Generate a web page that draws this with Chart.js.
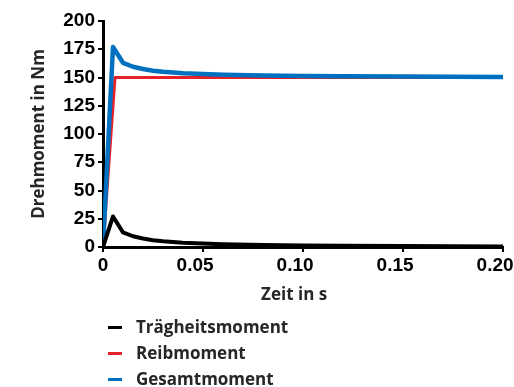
<!DOCTYPE html>
<html>
<head>
<meta charset="utf-8">
<script src="https://cdn.jsdelivr.net/npm/chart.js@4/dist/chart.umd.min.js"></script>
<style>
  html, body { margin: 0; padding: 0; background: #fff; }
  #wrap { position: relative; width: 514px; height: 387px; }
  #legend { position: absolute; left: 108px; top: 314px; font: bold 17px "Open Sans", sans-serif; color: #262626; }
  #legend div { height: 26px; line-height: 26px; white-space: nowrap; }
  #legend span.mark { display: inline-block; width: 14px; height: 3px; vertical-align: middle; margin-right: 14px; position: relative; top: -1px; }
</style>
</head>
<body>
<div id="wrap">
  <canvas id="torqueChart" width="514" height="387"></canvas>
  <div id="legend"></div>
</div>
<script>
// Zeitachse (s) und Momente (Nm)
const zeit = [0, 0.005, 0.01, 0.015, 0.02, 0.025, 0.03, 0.04, 0.05, 0.06, 0.08, 0.10, 0.12, 0.15, 0.20];
const traegheit = [0, 27, 13, 9.5, 7.5, 6, 5, 3.8, 3, 2.4, 1.7, 1.3, 1, 0.8, 0.5];
const gesamt = [0, 177, 163, 159.5, 157.5, 156, 155, 153.8, 153, 152.4, 151.7, 151.3, 151, 150.8, 150.5];
const reibZeit = [0, 0.006, 0.20];
const reibung = [0, 150, 150];

const xTicks = ['0', '0.05', '0.10', '0.15', '0.20'];
const yTicks = ['0', '25', '50', '75', '100', '125', '150', '175', '200'];

const seriesNames = ['Trägheitsmoment', 'Reibmoment', 'Gesamtmoment'];
const seriesColors = ['#000000', '#e8202a', '#0070c0'];

function toPoints(xs, ys) {
    return xs.map((x, i) => ({ x: x, y: ys[i] }));
}

function initializeTorqueChart() {
    const ctx = document.getElementById('torqueChart');
    const tickFont = { family: '"Liberation Sans", Arial, sans-serif', size: 19, weight: 'bold' };
    const titleFont = { family: '"Open Sans", sans-serif', size: 17, weight: 'bold' };

    new Chart(ctx, {
        type: 'line',
        data: {
            datasets: [{
                label: seriesNames[0],
                data: toPoints(zeit, traegheit),
                borderColor: seriesColors[0],
                borderWidth: 4,
                order: 0
            }, {
                label: seriesNames[1],
                data: toPoints(reibZeit, reibung),
                borderColor: seriesColors[1],
                borderWidth: 3,
                order: 2
            }, {
                label: seriesNames[2],
                data: toPoints(zeit, gesamt),
                borderColor: seriesColors[2],
                borderWidth: 4.5,
                order: 1
            }]
        },
        options: {
            responsive: false,
            animation: false,
            events: [],
            elements: { point: { radius: 0 }, line: { tension: 0, borderCapStyle: 'round', borderJoinStyle: 'round' } },
            layout: { padding: { top: 21, right: 11, left: 0, bottom: 80 } },
            plugins: { legend: { display: false }, tooltip: { enabled: false } },
            scales: {
                x: {
                    type: 'linear',
                    min: 0,
                    max: 0.2,
                    border: { color: '#000', width: 3 },
                    grid: { drawOnChartArea: false, color: '#000', lineWidth: 2, tickLength: 5 },
                    ticks: {
                        stepSize: 0.05,
                        color: '#000',
                        font: tickFont,
                        padding: 2,
                        maxRotation: 0,
                        // Excel setzt die Dezimal-Labels leicht links vom Tick
                        callback: (v) => {
                            const i = Math.round(v / 0.05);
                            return i === 0 ? xTicks[i] : xTicks[i] + '   ';
                        }
                    },
                    title: { display: true, text: 'Zeit in s    ', color: '#262626', font: titleFont, padding: { top: 0, bottom: 2 } },
                    afterFit: (scale) => { scale.height = 60; scale.paddingRight = 0; scale.paddingLeft = 0; }
                },
                y: {
                    min: 0,
                    max: 200,
                    border: { color: '#000', width: 3 },
                    grid: { drawOnChartArea: false, color: '#000', lineWidth: 2, tickLength: 5 },
                    ticks: {
                        stepSize: 25,
                        color: '#000',
                        font: tickFont,
                        padding: 3,
                        callback: (v) => yTicks[Math.round(v / 25)]
                    },
                    title: { display: true, text: 'Drehmoment in Nm', color: '#262626', font: titleFont, padding: { top: 29, bottom: 0 } },
                    afterFit: (scale) => { scale.width = 103; scale.paddingTop = 0; scale.paddingBottom = 0; }
                }
            }
        }
    });
}

function buildLegend() {
    const box = document.getElementById('legend');
    seriesNames.forEach((name, i) => {
        const row = document.createElement('div');
        const mark = document.createElement('span');
        mark.className = 'mark';
        mark.style.background = seriesColors[i];
        row.appendChild(mark);
        row.appendChild(document.createTextNode(name));
        box.appendChild(row);
    });
}

initializeTorqueChart();
buildLegend();
</script>
</body>
</html>
